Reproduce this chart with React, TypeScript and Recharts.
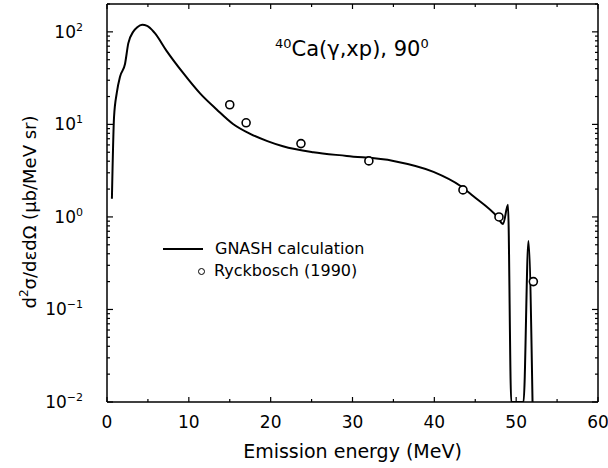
import { ComposedChart, Line, Scatter, XAxis, YAxis, ReferenceLine } from "recharts";

// GNASH calculation (emission energy in MeV, cross section in µb/MeV sr)
const calcEnergy = [0.6, 0.86, 1.2, 1.6, 2.2, 2.6, 3.2, 3.7, 4.3, 4.9, 5.8, 7.3, 9.3, 11.4, 13.4, 15.4, 17.5, 19.6, 21.5, 25.2, 29.3, 35.0, 39.9, 43.2, 44.7, 47.7, 48.4, 49.0, 49.4, 50.9, 51.5, 52.0];
const calcValue = [1.57, 12, 22, 33, 45, 75, 100, 112, 119, 116, 98, 62, 36, 21.5, 14.5, 10.1, 7.9, 6.6, 5.8, 5.0, 4.56, 4.03, 3.07, 2.16, 1.69, 1.0, 0.84, 1.35, 0.01, 0.01, 0.55, 0.01];

// Ryckbosch (1990) data
const expEnergy = [15.0, 17.0, 23.7, 32.0, 43.5, 47.9, 52.1];
const expValue = [16.3, 10.4, 6.2, 4.03, 1.96, 1.0, 0.2];

const xTicks = [0, 5, 10, 15, 20, 25, 30, 35, 40, 45, 50, 55, 60];
const yDecades = [0.01, 0.1, 1, 10, 100];
const yMinorSteps = [1, 2, 3, 4, 5, 6, 7, 8, 9];

const calcData = calcEnergy.map((e, i) => ({ e, v: calcValue[i] }));
const expData = expEnergy.map((e, i) => ({ e, v: expValue[i] }));
const yTicks = yDecades.flatMap((d) => yMinorSteps.map((s) => d * s)).filter((t) => t <= 200);

const FONT = "'DejaVu Sans', sans-serif";
const PLOT_W = 491;
const PLOT_H = 398;

const XTick = ({ x, y, payload }: any) => {
  const v = payload.value;
  const major = v % 10 === 0;
  const len = major ? 5 : 3;
  return (
    <g>
      <line x1={x} y1={y} x2={x} y2={y - len} stroke="#000" strokeWidth={1.2} />
      <line x1={x} y1={y - PLOT_H} x2={x} y2={y - PLOT_H + len} stroke="#000" strokeWidth={1.2} />
      {major && (
        <text x={x} y={y + 26} textAnchor="middle" fontSize={17} fontFamily={FONT} fill="#000">
          {v}
        </text>
      )}
    </g>
  );
};

const YTick = ({ x, y, payload }: any) => {
  const v = payload.value;
  const exp = Math.round(Math.log10(v));
  const major = Math.abs(v / Math.pow(10, exp) - 1) < 1e-6;
  const len = major ? 6 : 3;
  return (
    <g>
      <line x1={x} y1={y} x2={x + len} y2={y} stroke="#000" strokeWidth={1.2} />
      <line x1={x + PLOT_W} y1={y} x2={x + PLOT_W - len} y2={y} stroke="#000" strokeWidth={1.2} />
      {major && (
        <text x={x - 24} y={y + 6} textAnchor="end" fontSize={17} fontFamily={FONT} fill="#000">
          10
          <tspan dy={-7} fontSize={11}>{exp < 0 ? `\u2212${-exp}` : exp}</tspan>
        </text>
      )}
    </g>
  );
};

const YLabel = () => (
  <text transform="translate(36,212) rotate(-90)" textAnchor="middle" fontSize={18} fontFamily={FONT} fill="#000">
    d<tspan dy={-8} fontSize={12}>2</tspan>
    <tspan dy={8}>σ/dεdΩ (μb/MeV sr)</tspan>
  </text>
);

const Circle = ({ cx, cy }: any) => <circle cx={cx} cy={cy} r={4} fill="#fff" stroke="#000" strokeWidth={1.6} />;

export default function App() {
  return (
    <div style={{ position: "absolute", left: 0, top: 0, width: 608, height: 468, background: "#fff", fontFamily: FONT }}>
      <ComposedChart width={608} height={468} margin={{ top: 4, right: 10, left: 0, bottom: 0 }}>
        <XAxis
          type="number"
          dataKey="e"
          domain={[0, 60]}
          ticks={xTicks}
          interval={0}
          tickSize={0}
          tickMargin={0}
          tick={<XTick />}
          height={66}
          axisLine={{ stroke: "#000", strokeWidth: 1.5 }}
          label={{ value: "Emission energy (MeV)", position: "insideBottom", offset: 10, fontSize: 19, fill: "#000", fontFamily: FONT }}
        />
        <YAxis
          type="number"
          dataKey="v"
          scale="log"
          domain={[0.01, 200]}
          allowDataOverflow
          ticks={yTicks}
          interval={0}
          tickSize={0}
          tickMargin={0}
          tick={<YTick />}
          width={107}
          axisLine={{ stroke: "#000", strokeWidth: 1.5 }}
          label={<YLabel />}
        />
        <ReferenceLine x={60} stroke="#000" strokeWidth={1.5} />
        <ReferenceLine y={200} stroke="#000" strokeWidth={1.5} />
        <Line
          data={calcData}
          dataKey="v"
          type="monotone"
          stroke="#000"
          strokeWidth={2}
          dot={false}
          isAnimationActive={false}
        />
        <Scatter data={expData} dataKey="v" shape={<Circle />} isAnimationActive={false} />
      </ComposedChart>
      <div style={{ position: "absolute", left: 275, top: 36, fontSize: 21, color: "#000", whiteSpace: "nowrap" }}>
        <sup style={{ fontSize: 13 }}>40</sup>Ca(γ,xp), 90<sup style={{ fontSize: 13 }}>0</sup>
      </div>
      <div style={{ position: "absolute", left: 163, top: 238, fontSize: 16, color: "#000", lineHeight: "22px" }}>
        <div style={{ display: "flex", alignItems: "center" }}>
          <span style={{ display: "inline-block", width: 40, borderTop: "2px solid #000", marginRight: 12 }} />
          GNASH calculation
        </div>
        <div style={{ display: "flex", alignItems: "center" }}>
          <span style={{ display: "inline-block", width: 5, height: 5, border: "1.5px solid #000", borderRadius: "50%", marginLeft: 35, marginRight: 9 }} />
          Ryckbosch (1990)
        </div>
      </div>
    </div>
  );
}
